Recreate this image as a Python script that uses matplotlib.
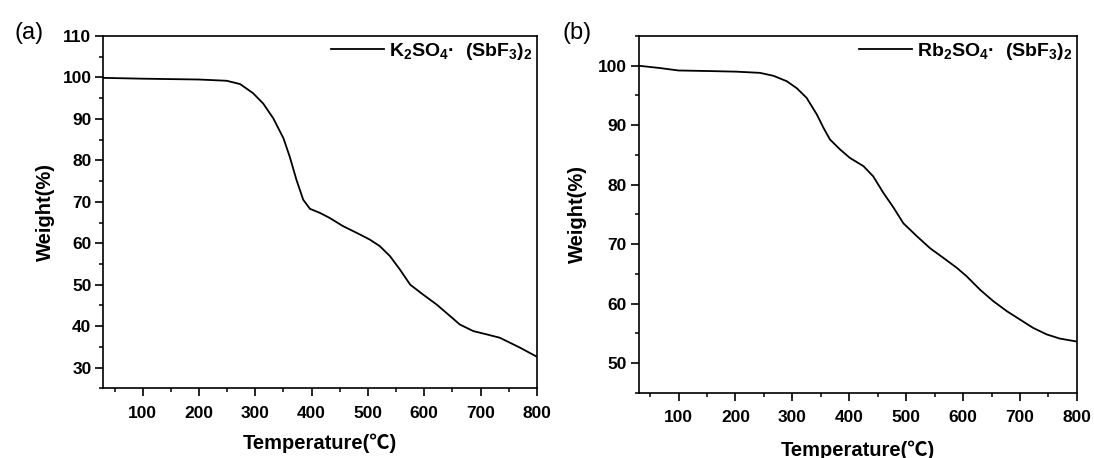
import matplotlib
matplotlib.use("Agg")
import matplotlib.pyplot as plt
from matplotlib.ticker import MultipleLocator

plt.rcParams["font.family"] = ["Liberation Sans", "Noto Sans CJK SC", "DejaVu Sans"]
plt.rcParams["font.weight"] = "bold"
plt.rcParams["mathtext.fontset"] = "custom"
plt.rcParams["mathtext.rm"] = "Liberation Sans:bold"
plt.rcParams["mathtext.it"] = "Liberation Sans:bold"
plt.rcParams["mathtext.bf"] = "Liberation Sans:bold"

# TGA curve (a): K2SO4·(SbF3)2
temp_a = [30, 100, 200, 249, 273, 296, 314, 332, 350, 361, 373, 385, 397, 415,
          432, 456, 480, 503, 521, 539, 557, 575, 598, 622, 646, 663, 687, 711,
          734, 752, 770, 800]
weight_a = [99.9, 99.7, 99.5, 99.2, 98.4, 96.2, 93.7, 90.1, 85.3, 80.9, 75.3,
            70.5, 68.3, 67.3, 66.1, 64.1, 62.5, 60.9, 59.3, 56.9, 53.6, 50.0,
            47.6, 45.2, 42.4, 40.4, 38.8, 38.0, 37.2, 36.0, 34.8, 32.6]

# TGA curve (b): Rb2SO4·(SbF3)2
temp_b = [30, 68, 100, 156, 202, 243, 267, 290, 308, 325, 343, 355, 366, 384,
          401, 425, 442, 460, 478, 495, 519, 542, 565, 589, 606, 630, 653, 677,
          700, 723, 747, 770, 800]
weight_b = [100.0, 99.6, 99.2, 99.1, 99.0, 98.8, 98.3, 97.4, 96.2, 94.6, 91.8,
            89.5, 87.6, 85.9, 84.5, 83.1, 81.4, 78.6, 76.1, 73.5, 71.3, 69.3,
            67.7, 66.0, 64.6, 62.3, 60.4, 58.7, 57.3, 55.9, 54.8, 54.1, 53.6]

labels = [r"K$_2$SO$_4$·  (SbF$_3$)$_2$", r"Rb$_2$SO$_4$·  (SbF$_3$)$_2$"]

fig = plt.figure(figsize=(10.94, 4.58), dpi=100)
ax_a = fig.add_axes([0.0944, 0.1522, 0.3964, 0.7692])
ax_b = fig.add_axes([0.5838, 0.1426, 0.4006, 0.7788])

panels = [
    (ax_a, temp_a, weight_a, labels[0], (25, 110), -0.111, -0.127),
    (ax_b, temp_b, weight_b, labels[1], (45, 105), -0.118, -0.133),
]

for ax, t, w, lab, ylim, ylx, xly in panels:
    ax.plot(t, w, color="black", lw=1.3, label=lab)
    ax.set_xlim(30, 800)
    ax.set_ylim(*ylim)
    ax.xaxis.set_major_locator(MultipleLocator(100))
    ax.xaxis.set_minor_locator(MultipleLocator(50))
    ax.yaxis.set_major_locator(MultipleLocator(10))
    ax.yaxis.set_minor_locator(MultipleLocator(5))
    ax.tick_params(which="major", direction="out", length=5.5, width=1.2,
                   labelsize=12.5)
    ax.tick_params(axis="x", which="major", pad=7)
    ax.tick_params(axis="y", which="major", pad=3)
    ax.tick_params(which="minor", direction="out", length=3, width=1.1)
    for s in ax.spines.values():
        s.set_linewidth(1.2)
    ax.set_xlabel("Temperature(℃)", fontsize=14.5, fontweight="bold")
    ax.set_ylabel("Weight(%)", fontsize=14.5, fontweight="bold")
    ax.yaxis.set_label_coords(ylx, 0.5)
    ax.xaxis.set_label_coords(0.5, xly)
    ax.legend(loc="upper right", frameon=False, fontsize=14, handlelength=2.7,
              handletextpad=0.25, borderaxespad=0.1, borderpad=0.15)

fig.text(29 / 1094, 1 - 33 / 458, "(a)", fontsize=17, fontweight="normal",
         ha="center", va="center")
fig.text(577 / 1094, 1 - 33 / 458, "(b)", fontsize=17, fontweight="normal",
         ha="center", va="center")

fig.savefig("out.png", dpi=100)
